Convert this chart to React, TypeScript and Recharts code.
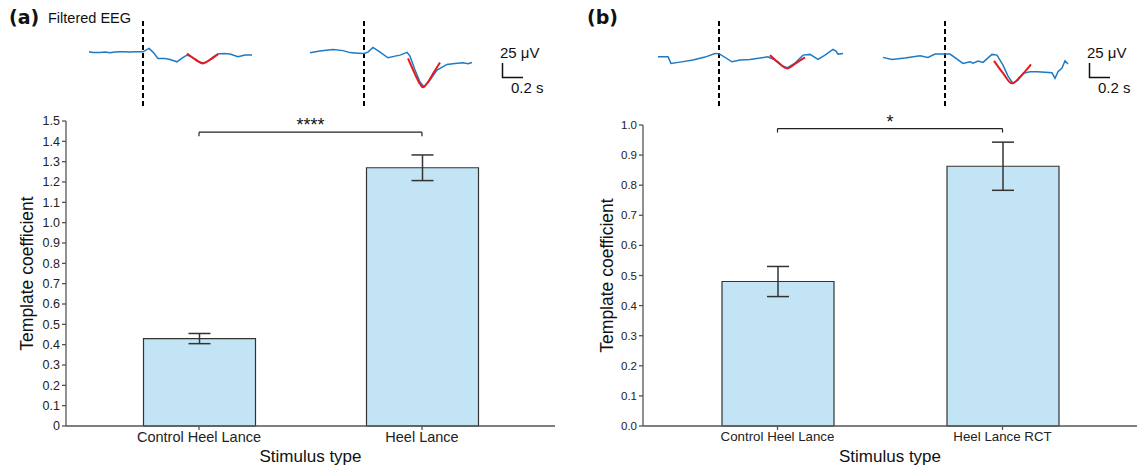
import React from 'react';
import {
  Bar,
  BarChart,
  ErrorBar,
  Line,
  LineChart,
  ReferenceLine,
  XAxis,
  YAxis,
} from 'recharts';

// bar data, panel (a)
const CATEGORIES_A = ['Control Heel Lance', 'Heel Lance'];
const MEANS_A = [0.43, 1.27];
const ERRORS_A = [0.025, 0.063];
const TICKS_A = [0, 0.1, 0.2, 0.3, 0.4, 0.5, 0.6, 0.7, 0.8, 0.9, 1.0, 1.1, 1.2, 1.3, 1.4, 1.5];
const SIG_A = { y: 1.445, stars: '****' };

// bar data, panel (b)
const CATEGORIES_B = ['Control Heel Lance', 'Heel Lance RCT'];
const MEANS_B = [0.48, 0.863];
const ERRORS_B = [0.05, 0.08];
const TICKS_B = [0, 0.1, 0.2, 0.3, 0.4, 0.5, 0.6, 0.7, 0.8, 0.9, 1.0];
const SIG_B = { y: 0.988, stars: '*' };

// EEG traces: [time ms from stimulus, amplitude μV]
const EEG_A1 = [
  [-540, 0.5], [-500, -0.5], [-430, -0.8], [-380, 0], [-330, -1.2], [-280, 0.3], [-230, 0.8],
  [-180, 0.5], [-130, 0], [-80, 0.6], [-30, 0.8], [0, 0.5], [60, 6.2], [100, 0], [150, -10.5],
  [220, -10.8], [270, -12.2], [340, -16.2], [390, -10], [440, -5], [490, -8.3], [540, -15],
  [600, -18.3], [650, -15], [700, -8.3], [750, -3.3], [810, -2.5], [870, -3.3], [950, -7.8],
  [1020, -5], [1090, -5],
];
const FIT_A1 = [[440, -2.2], [520, -11.7], [600, -18.8], [680, -11.7], [750, -3.3]];

const EEG_A2 = [
  [-540, -1.2], [-440, 1.7], [-310, 4.5], [-210, 2.5], [-140, -0.8], [-60, -1.7], [0, -2.2],
  [40, 0], [90, 7.8], [160, 0], [240, -9.5], [310, -6.7], [360, -5], [430, -0.5], [460, -6.7],
  [510, -30], [560, -50], [600, -57.8], [660, -46.7], [730, -30], [830, -20.5], [910, -19.2],
  [990, -17.8], [1040, -19.2], [1080, -17.2],
];
const FIT_A2 = [[440, -10.5], [510, -36.7], [560, -53.3], [590, -58.8], [640, -50], [700, -33.3], [760, -17.2]];

const EEG_B1 = [
  [-610, -7.8], [-510, -7.8], [-480, -18.8], [-390, -16.7], [-260, -13.3], [-140, -8.3],
  [-40, -2.2], [0, -2.5], [130, -16.2], [210, -13.3], [310, -12.2], [410, -10], [490, -7.8],
  [560, -13.3], [620, -21.7], [680, -26.2], [760, -18.3], [840, -5], [910, -3.8], [990, -12.2],
  [1060, -5], [1140, 4.5], [1170, 1.7], [1190, -3.3], [1240, -2.2],
];
const FIT_B1 = [[510, -5], [590, -16.7], [680, -27.2], [770, -18.3], [860, -8.8]];

const EEG_B2 = [
  [-620, -8.8], [-530, -12.2], [-400, -10], [-250, -6.2], [-170, -8.8], [-100, -3.3], [0, -3.3],
  [50, -3.3], [180, -18.8], [250, -16.2], [280, -18.3], [330, -15], [380, -17.2], [470, -3.8],
  [520, -5], [580, -21.7], [630, -40], [680, -52.2], [730, -46.7], [780, -35.5], [850, -32.8],
  [920, -32.8], [1000, -33.8], [1070, -34.5], [1100, -43.8], [1130, -32.8], [1170, -26.7],
  [1200, -14.5], [1230, -20],
];
const FIT_B2 = [[490, -14.5], [580, -35], [670, -52.2], [750, -41.7], [860, -20.5]];

const FONT = "'Liberation Sans', Arial, Helvetica, sans-serif";
const AXIS = '#555555';
const BAR_FILL = '#c3e4f4';
const BLUE = '#1f7ac4';
const RED = '#e8191c';

const toPoints = (rows: number[][]) => rows.map(([t, v]) => ({ t, v }));

function EegTrace({ left, blue, fit }: { left: number; blue: number[][]; fit: number[][] }) {
  return (
    <div style={{ position: 'absolute', left, top: 18 }}>
      <LineChart width={195} height={88} margin={{ top: 0, right: 0, bottom: 0, left: 0 }}>
        <XAxis dataKey="t" type="number" domain={[-650, 1300]} hide allowDataOverflow />
        <YAxis type="number" domain={[-90, 57]} hide allowDataOverflow />
        <ReferenceLine x={0} stroke="#000" strokeWidth={2} strokeDasharray="5 3" />
        <Line data={toPoints(blue)} dataKey="v" type="linear" stroke={BLUE} strokeWidth={1.5} dot={false} isAnimationActive={false} />
        <Line data={toPoints(fit)} dataKey="v" type="monotone" stroke={RED} strokeWidth={2} dot={false} isAnimationActive={false} />
      </LineChart>
    </div>
  );
}

function ScaleBar({ x }: { x: number }) {
  return (
    <svg style={{ position: 'absolute', left: x - 4, top: 40 }} width={60} height={60}>
      <text x={2} y={18} fontSize={15} fontFamily={FONT} fill="#111">25 μV</text>
      <path d="M4.5 23 V37.5 H25" stroke="#111" strokeWidth={1.5} fill="none" />
      <text x={13} y={53} fontSize={15} fontFamily={FONT} fill="#111">0.2 s</text>
    </svg>
  );
}

function BarPanel({
  left, width, right, yAxisWidth, top, categories, means, errors, ticks, sig, pad, tickSize, xTickSize, labelOffset, zeroLabel,
}: {
  left: number; width: number; right: number; yAxisWidth: number; top: number; categories: string[]; means: number[]; errors: number[];
  ticks: number[]; sig: { y: number; stars: string }; pad: number; tickSize: number; xTickSize: number; labelOffset: number; zeroLabel: string;
}) {
  const rows = categories.map((name, i) => ({ name, mean: means[i], err: errors[i] }));
  const max = ticks[ticks.length - 1];
  return (
    <div style={{ position: 'absolute', left, top: 100 }}>
      <BarChart width={width} height={371} data={rows} margin={{ top, right, bottom: 5, left: 0 }}>
        <XAxis
          dataKey="name"
          height={40}
          padding={{ left: pad, right: pad }}
          stroke={AXIS}
          strokeWidth={1.3}
          tickSize={4}
          tick={{ fontSize: xTickSize, fill: '#222', fontFamily: FONT }}
          label={{ value: 'Stimulus type', position: 'insideBottom', offset: 4, style: { fontSize: 17, fill: '#111', fontFamily: FONT } }}
        />
        <YAxis
          type="number"
          width={yAxisWidth}
          domain={[0, max]}
          ticks={ticks}
          interval={0}
          stroke={AXIS}
          strokeWidth={1.3}
          tickSize={4}
          tickFormatter={(v: number) => (v === 0 ? zeroLabel : v.toFixed(1))}
          tick={{ fontSize: tickSize, fill: '#222', fontFamily: FONT }}
          label={{
            value: 'Template coefficient', angle: -90, position: 'insideLeft', offset: labelOffset,
            style: { textAnchor: 'middle', fontSize: 17.5, fill: '#111', fontFamily: FONT },
          }}
        />
        <Bar dataKey="mean" barSize={112} fill={BAR_FILL} stroke="#333" strokeWidth={1.2} isAnimationActive={false}>
          <ErrorBar dataKey="err" width={11} stroke="#333" strokeWidth={1.5} />
        </Bar>
        <ReferenceLine
          segment={[{ x: categories[0], y: sig.y }, { x: categories[1], y: sig.y }]}
          stroke="#222"
          strokeWidth={1.2}
          label={{ value: sig.stars, position: 'top', offset: 1, style: { fontSize: 18, fill: '#111', fontFamily: FONT } }}
        />
        <ReferenceLine segment={[{ x: categories[0], y: sig.y }, { x: categories[0], y: sig.y - 0.013 * max }]} stroke="#222" strokeWidth={1.2} />
        <ReferenceLine segment={[{ x: categories[1], y: sig.y }, { x: categories[1], y: sig.y - 0.013 * max }]} stroke="#222" strokeWidth={1.2} />
      </BarChart>
    </div>
  );
}

export default function App() {
  return (
    <div style={{ position: 'absolute', left: 0, top: 0, width: 1141, height: 471, background: '#fff', fontFamily: FONT }}>
      <svg style={{ position: 'absolute', left: 0, top: 0 }} width={1141} height={40}>
        <text x={9} y={24} fontSize={19} fontWeight="bold" fontFamily="'DejaVu Sans', sans-serif" fill="#111">(a)</text>
        <text x={48} y={23} fontSize={14.5} fontFamily={FONT} fill="#111">Filtered EEG</text>
        <text x={587} y={24} fontSize={19} fontWeight="bold" fontFamily="'DejaVu Sans', sans-serif" fill="#111">(b)</text>
      </svg>

      <EegTrace left={143 - 65} blue={EEG_A1} fit={FIT_A1} />
      <EegTrace left={364 - 65} blue={EEG_A2} fit={FIT_A2} />
      <EegTrace left={719 - 65} blue={EEG_B1} fit={FIT_B1} />
      <EegTrace left={945 - 65} blue={EEG_B2} fit={FIT_B2} />
      <ScaleBar x={502} />
      <ScaleBar x={1089} />

      <BarPanel
        left={0} width={570} right={15} yAxisWidth={66} top={21}
        categories={CATEGORIES_A} means={MEANS_A} errors={ERRORS_A} ticks={TICKS_A} sig={SIG_A}
        pad={21.5} tickSize={12.5} xTickSize={14.5} labelOffset={27} zeroLabel="0"
      />
      <BarPanel
        left={570} width={571} right={4} yAxisWidth={73} top={25}
        categories={CATEGORIES_B} means={MEANS_B} errors={ERRORS_B} ticks={TICKS_B} sig={SIG_B}
        pad={22} tickSize={11.5} xTickSize={13.3} labelOffset={37} zeroLabel="0.0"
      />
    </div>
  );
}
